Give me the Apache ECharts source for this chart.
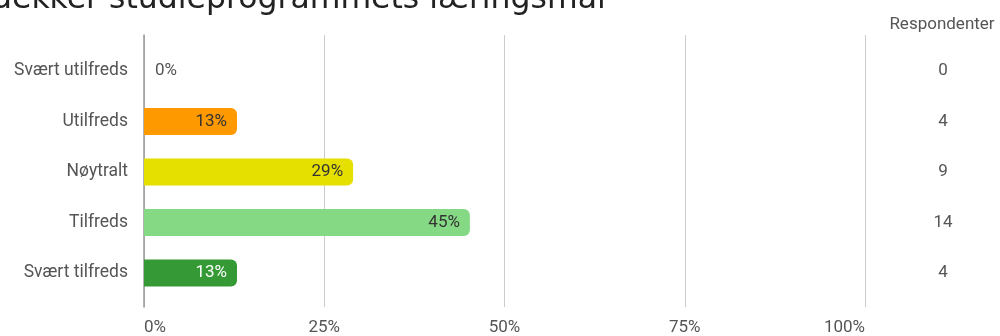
<!DOCTYPE html>
<html>
<head>
<meta charset="utf-8">
<script src="https://cdn.jsdelivr.net/npm/echarts@6/dist/echarts.min.js"></script>
<style>html,body{margin:0;padding:0;background:#fff}#c{width:1000px;height:336px}</style>
</head>
<body>
<div id="c"></div>
<script>
const titleText = 'dekker studieprogrammets læringsmål';
const categories = ['Svært utilfreds', 'Utilfreds', 'Nøytralt', 'Tilfreds', 'Svært tilfreds'];
const respondents = [0, 4, 9, 14, 4];
const percents = [0, 12.9, 29.0, 45.2, 12.9];
const barColors = ['#ff9900', '#ff9900', '#e6e000', '#85d985', '#359a35'];
const labelColors = ['#555555', '#333333', '#333333', '#333333', '#ffffff'];
const xTicks = [0, 25, 50, 75, 100];

const FONT = 'Roboto, "Noto Sans", sans-serif';
const chart = echarts.init(document.getElementById('c'), null, {renderer: 'canvas'});

const seriesData = percents.map((v, i) => ({
  value: v,
  itemStyle: {color: barColors[i]},
  label: v === 0
    ? {position: 'right', distance: 11, color: labelColors[i]}
    : {position: 'insideRight', distance: 10, color: labelColors[i]}
}));

chart.setOption({
  animation: false,
  graphic: [
    {type: 'text', left: -8, top: -16, style: {text: titleText, font: '31.5px "DejaVu Sans"', fill: '#222222'}},
    {type: 'text', x: 942, y: 25, style: {text: 'Respondenter', font: '17px ' + FONT, fill: '#555555', align: 'center', verticalAlign: 'middle'}}
  ],
  grid: [
    {left: 144, right: 135, top: 45.75, height: 252.5},
    {left: 144, right: 135, top: 35, height: 275}
  ],
  xAxis: [
    {gridIndex: 0, type: 'value', min: 0, max: 100, interval: 25, show: false},
    {gridIndex: 1, type: 'value', min: 0, max: 100, interval: 25,
      axisLine: {show: false}, axisTick: {show: false},
      splitLine: {show: true, lineStyle: {color: '#cccccc', width: 1}},
      axisLabel: {formatter: '{value}%', color: '#555555', fontSize: 17, fontFamily: FONT, margin: 12,
        alignMinLabel: 'left', alignMaxLabel: 'right', customValues: xTicks}
    }
  ],
  yAxis: [
    {gridIndex: 0, type: 'category', data: categories, inverse: true,
      axisLine: {show: false}, axisTick: {show: false}, splitLine: {show: false},
      axisLabel: {color: '#555555', fontSize: 17.5, fontFamily: FONT, margin: 16, padding: [5, 0, 0, 0]}},
    {gridIndex: 0, type: 'category', data: respondents.map(String), inverse: true, position: 'right',
      axisLine: {show: false}, axisTick: {show: false}, splitLine: {show: false},
      axisLabel: {color: '#555555', fontSize: 17, fontFamily: FONT, margin: 78, align: 'center', padding: [5, 0, 0, 0]}},
    {gridIndex: 1, type: 'value', min: 0, max: 1, show: true,
      axisLine: {show: true, lineStyle: {color: '#999999', width: 1.5}},
      axisTick: {show: false}, axisLabel: {show: false}, splitLine: {show: false}}
  ],
  series: [{
    type: 'bar', xAxisIndex: 0, yAxisIndex: 0,
    data: seriesData,
    barWidth: 27,
    itemStyle: {borderRadius: [0, 6, 6, 0]},
    label: {show: true, fontSize: 17, fontFamily: FONT, padding: [4, 0, 0, 0],
      formatter: p => Math.round(p.value) + '%'}
  }]
});
</script>
</body>
</html>
